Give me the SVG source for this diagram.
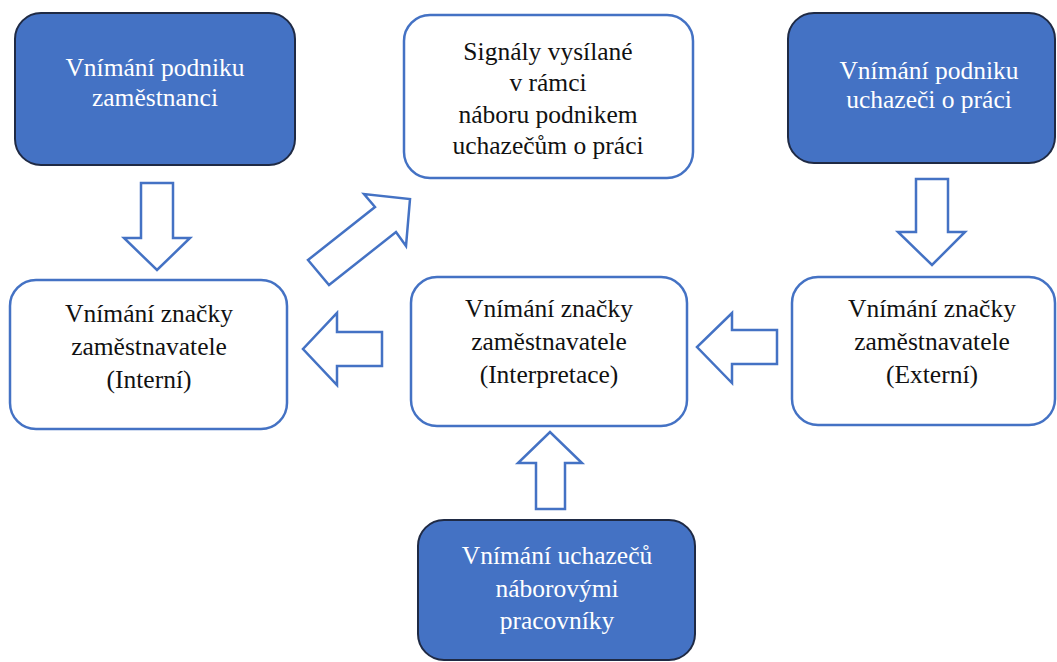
<svg xmlns="http://www.w3.org/2000/svg" width="1057" height="662" viewBox="0 0 1057 662" font-family="'Liberation Serif', 'Times New Roman', 'DejaVu Serif', serif" font-size="25">
<style>
.dark rect{fill:#4472C4;stroke:#1F2A44;stroke-width:2}
.light rect{fill:#fff;stroke:#4472C4;stroke-width:2.5}
.dark text{fill:#fff}
.light text{fill:#111}
text{font-family:'Liberation Serif','Times New Roman','DejaVu Serif',serif;font-size:25.5px;text-anchor:middle}
.arrow{fill:#fff;stroke:#4472C4;stroke-width:2.5;stroke-linejoin:miter}
</style>
<rect width="1057" height="662" fill="#fff"/>
<g id="connectors">
<polygon class="arrow" points="141,183 173,183 173,238 190,238 157,270 124,238 141,238"/>
<polygon class="arrow" points="916,179 948,179 948,232 965,232 932,265 898,232 916,232"/>
<polygon class="arrow" points="777,330 777,364 732,364 732,383 697,347 732,313 732,330"/>
<polygon class="arrow" points="382,332 382,366 337,366 337,385 303,349 337,313 337,332"/>
<polygon class="arrow" points="536,509 565,509 565,463 582,463 550,432 518,463 536,463"/>
<polygon class="arrow" points="308,260 375,207 364,194 410,199 406,246 396,232 329,285"/>
</g>
<g id="n1" class="dark">
<rect x="15" y="13" width="280" height="152" rx="26"/>
<text x="155" y="76">Vnímání podniku</text>
<text x="155" y="106">zaměstnanci</text>
</g>
<g id="n2" class="light">
<rect x="404" y="15" width="289" height="163" rx="26"/>
<text x="548" y="60">Signály vysílané</text>
<text x="548" y="91">v rámci</text>
<text x="548" y="123">náboru podnikem</text>
<text x="548" y="154">uchazečům o práci</text>
</g>
<g id="n3" class="dark">
<rect x="788" y="13" width="267" height="150" rx="26"/>
<text x="929" y="79">Vnímání podniku</text>
<text x="929" y="108">uchazeči o práci</text>
</g>
<g id="n4" class="light">
<rect x="10" y="280" width="277" height="149" rx="26"/>
<text x="149" y="322">Vnímání značky</text>
<text x="149" y="355">zaměstnavatele</text>
<text x="149" y="388">(Interní)</text>
</g>
<g id="n5" class="light">
<rect x="411" y="277" width="276" height="149" rx="26"/>
<text x="549" y="317">Vnímání značky</text>
<text x="549" y="350">zaměstnavatele</text>
<text x="549" y="383">(Interpretace)</text>
</g>
<g id="n6" class="light">
<rect x="792" y="277" width="263" height="148" rx="26"/>
<text x="932" y="317">Vnímání značky</text>
<text x="932" y="350">zaměstnavatele</text>
<text x="932" y="383">(Externí)</text>
</g>
<g id="n7" class="dark">
<rect x="418" y="520" width="277" height="140" rx="26"/>
<text x="557" y="564">Vnímání uchazečů</text>
<text x="557" y="597">náborovými</text>
<text x="557" y="629">pracovníky</text>
</g>
</svg>
